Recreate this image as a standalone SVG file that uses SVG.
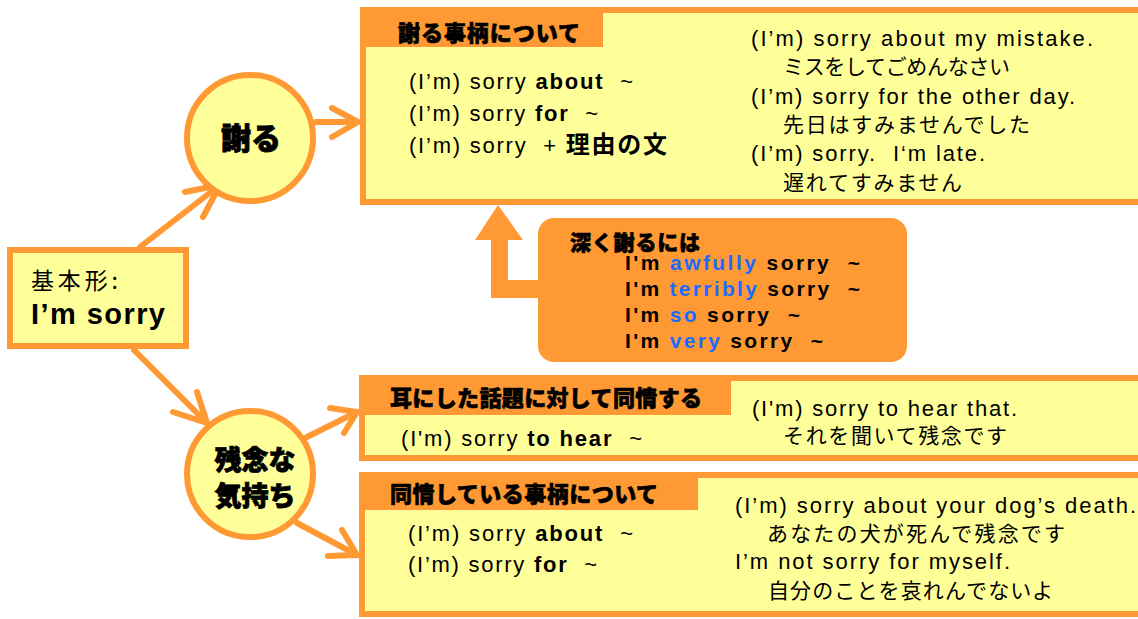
<svg xmlns="http://www.w3.org/2000/svg" width="1138" height="619" viewBox="0 0 1138 619">
<style>
.box{fill:#FFFF99;stroke:#FF9933;stroke-width:6}
.tab{fill:#FF9933}
.circ{fill:#FFFF99;stroke:#FF9933;stroke-width:6}
.conn{fill:none;stroke:#FF9933;stroke-width:6;stroke-linecap:round;stroke-linejoin:round}
.en{font-family:"Liberation Sans","Noto Sans CJK JP",sans-serif;font-size:22px;fill:#000}
.en21{font-family:"Liberation Sans","Noto Sans CJK JP",sans-serif;font-size:22px;fill:#000}
.jp{font-family:"Noto Sans CJK JP",sans-serif;font-size:21px;fill:#000}
.hd{font-family:"Noto Sans CJK JP",sans-serif;font-weight:900;font-size:22px;fill:#000;stroke:#000;stroke-width:0.6}
.big{font-family:"Noto Sans CJK JP",sans-serif;font-weight:900;fill:#000;stroke:#000;stroke-width:0.8;text-anchor:middle}
.b{font-weight:bold}
.deep{font-family:"Liberation Sans",sans-serif;font-size:21px;font-weight:bold;fill:#000}
.blue{fill:#1A6BFF}
</style>
<rect width="1138" height="619" fill="#FFFFFF"/>

<g id="connectors">
  <path class="conn" d="M140,247 L220,185 M185,192 L220,185 L203,217"/>
  <path class="conn" d="M134,350 L207,423 M173,412 L207,423 L197,392"/>
  <path class="conn" d="M316,122 L358,122 M332,108 L358,122 L332,137"/>
  <path class="conn" d="M307,437 L357,412 M330,408 L357,412 L344,433"/>
  <path class="conn" d="M297,523 L357,555 M328,556 L357,555 L342,530"/>
  <polygon class="tab" points="498,205 523,240 508,240 508,280 540,280 540,298 491,298 491,240 475,240"/>
</g>

<g id="base">
  <rect class="box" x="10" y="250" width="176" height="96"/>
  <text class="jp" x="31" y="289" style="font-size:23px" textLength="87">基本形:</text>
  <text class="en" x="31" y="324" style="font-size:29px;font-weight:bold" textLength="134">I’m sorry</text>
</g>

<g id="apologize">
  <circle class="circ" cx="250" cy="138" r="63"/>
  <text class="big" x="251" y="149" style="font-size:30px">謝る</text>
</g>

<g id="regret">
  <circle class="circ" cx="250" cy="474" r="63"/>
  <text class="big" x="255" y="470" style="font-size:27px">残念な</text>
  <text class="big" x="255" y="506" style="font-size:27px">気持ち</text>
</g>

<g id="box-apologize">
  <rect class="box" x="363" y="10" width="800" height="192"/>
  <rect class="tab" x="360" y="7" width="243" height="40"/>
  <text class="hd" x="398" y="41" textLength="182">謝る事柄について</text>
  <text class="en" x="409" y="89" textLength="224" xml:space="preserve">(I’m) sorry <tspan class="b">about</tspan>  ~</text>
  <text class="en" x="409" y="121" textLength="189" xml:space="preserve">(I’m) sorry <tspan class="b">for</tspan>  ~</text>
  <text class="en" x="409" y="153" textLength="258" xml:space="preserve">(I’m) sorry  + <tspan class="b" style="font-family:'Noto Sans CJK JP',sans-serif;font-size:24px">理由の文</tspan></text>
  <text class="en21" x="751" y="46" textLength="342">(I’m) sorry about my mistake.</text>
  <text class="jp" x="783" y="74" textLength="227">ミスをしてごめんなさい</text>
  <text class="en21" x="751" y="104" textLength="324">(I’m) sorry for the other day.</text>
  <text class="jp" x="783" y="132" textLength="247">先日はすみませんでした</text>
  <text class="en21" x="751" y="161" textLength="234" xml:space="preserve">(I’m) sorry.  I‘m late.</text>
  <text class="jp" x="783" y="190" textLength="179">遅れてすみません</text>
</g>

<g id="deep">
  <rect class="tab" x="538" y="218" width="369" height="144" rx="16"/>
  <text class="hd" x="570" y="250" style="font-size:21px" textLength="130">深く謝るには</text>
  <text class="deep" x="625" y="270" textLength="235" xml:space="preserve">I'm <tspan class="blue">awfully</tspan> sorry  ~</text>
  <text class="deep" x="625" y="296" textLength="235" xml:space="preserve">I'm <tspan class="blue">terribly</tspan> sorry  ~</text>
  <text class="deep" x="625" y="322" textLength="175" xml:space="preserve">I'm <tspan class="blue">so</tspan> sorry  ~</text>
  <text class="deep" x="625" y="348" textLength="198" xml:space="preserve">I'm <tspan class="blue">very</tspan> sorry  ~</text>
</g>

<g id="box-hear">
  <rect class="box" x="362" y="378" width="800" height="80"/>
  <rect class="tab" x="359" y="375" width="372" height="40"/>
  <text class="hd" x="390" y="406" textLength="312">耳にした話題に対して同情する</text>
  <text class="en" x="401" y="446" textLength="241" xml:space="preserve">(I'm) sorry <tspan class="b">to hear</tspan>  ~</text>
  <text class="en21" x="752" y="416" textLength="265">(I'm) sorry to hear that.</text>
  <text class="jp" x="783" y="443" textLength="224">それを聞いて残念です</text>
</g>

<g id="box-sympathy">
  <rect class="box" x="362" y="475" width="800" height="139"/>
  <rect class="tab" x="359" y="472" width="339" height="38"/>
  <text class="hd" x="390" y="502" textLength="268">同情している事柄について</text>
  <text class="en" x="408" y="541" textLength="225" xml:space="preserve">(I’m) sorry <tspan class="b">about</tspan>  ~</text>
  <text class="en" x="408" y="572" textLength="189" xml:space="preserve">(I’m) sorry <tspan class="b">for</tspan>  ~</text>
  <text class="en21" x="735" y="513" textLength="401">(I’m) sorry about your dog’s death.</text>
  <text class="jp" x="767" y="541" textLength="298">あなたの犬が死んで残念です</text>
  <text class="en21" x="735" y="569" textLength="275">I’m not sorry for myself.</text>
  <text class="jp" x="768" y="598" textLength="285">自分のことを哀れんでないよ</text>
</g>
</svg>
